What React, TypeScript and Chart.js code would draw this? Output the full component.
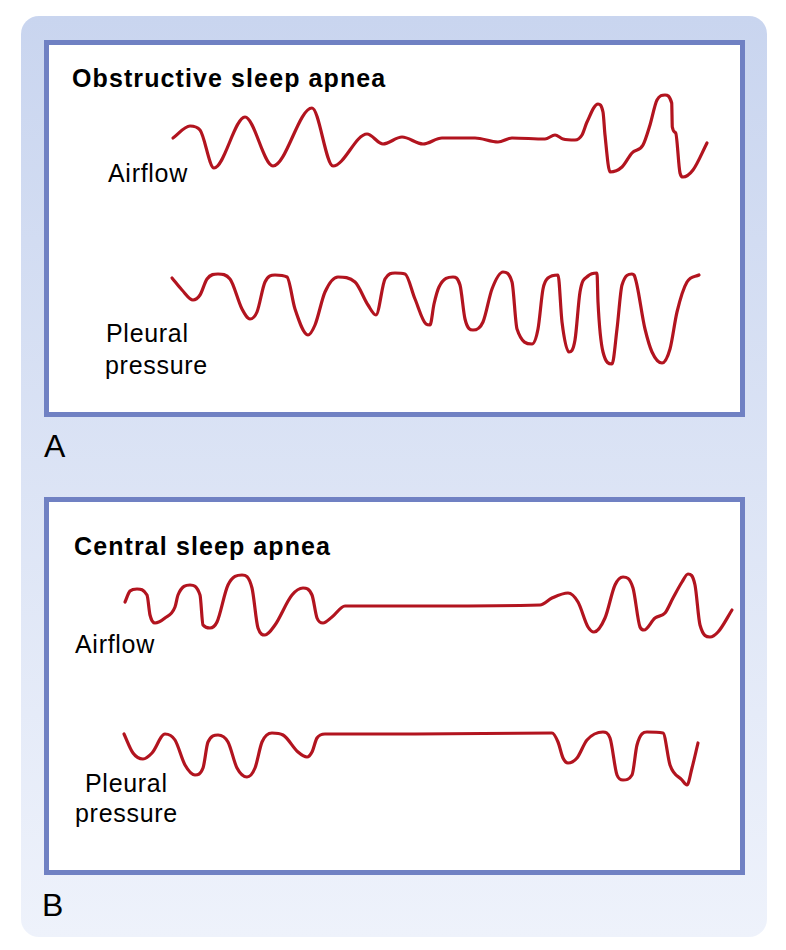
import React, { useEffect, useRef } from "react";
import { Chart, registerables } from "chart.js";

Chart.register(...registerables);

// ---------- Data (time in arbitrary units, amplitude in arbitrary units; up = positive) ----------
const obstructiveAirflowTime = [0, 17, 27, 41, 72, 100, 139, 160, 194, 210, 229, 250, 269, 302, 325, 339, 372, 382, 390, 402, 409, 414, 425, 430, 432, 437, 449, 459, 470, 477, 484, 492, 498.7, 499.3, 502.7, 507, 510, 520, 534];
const obstructiveAirflowValue = [2, 14, 10, -28, 23, -26, 32, -26, 6, -4, 3, -4, 2, 2, -2, 2, 1, 5, 1, 0, 5, 18, 36, 28, 5, -32, -27, -13, -5, 15, 40, 45, 37, 13, 7, -33, -37, -30, -3];

const obstructivePleuralTime = [0, 10, 21, 28, 35, 46, 58, 70, 78, 85, 93, 103, 115, 123, 136, 143, 153, 166, 183, 196, 204, 213, 223, 233, 243, 254, 258, 262, 267, 281, 288, 293, 301, 311, 320, 331, 340, 345, 360, 366, 371, 376, 386, 390, 397, 403, 408, 416, 425, 426, 431, 440, 445, 450, 460, 462, 473, 480, 490, 498, 505, 515, 527];
const obstructivePleuralValue = [40, 28, 18, 23, 39, 44, 39, 9, -1, 6, 36, 43, 41, 9, -17, -7, 26, 41, 36, 13, 3, 39, 45, 44, 19, -6, -7, 14, 31, 41, 33, -1, -12, -4, 29, 46, 36, -11, -26, -11, 29, 40, 43, -4, -34, -22, 26, 42, 45, 16, -34, -46, -11, 33, 44, 43, -11, -34, -45, -31, 6, 36, 43];

const centralAirflowTime = [0, 5, 12, 22, 25, 30, 40, 50, 53, 65, 75, 78, 85, 92, 103, 117, 127, 133, 140, 150, 167, 178, 187, 192, 198, 207, 220, 310, 415, 427, 443, 453, 463, 469, 480, 490, 498, 508, 515, 519, 530, 540, 548, 557, 563, 570, 575, 585, 593, 607];
const centralAirflowValue = [3, 14, 16, 10, -10, -18, -13, -2, 10, 20, 10, -20, -23, -17, 20, 30, 17, -23, -30, -20, 10, 17, 10, -13, -18, -12, -1, -1, 0, 7, 12, 3, -22, -27, -13, 20, 28, 17, -22, -25, -13, -8, 7, 23, 31, 20, -20, -32, -27, -5];

const centralPleuralTime = [0, 9, 19, 28, 41, 51, 61, 71, 79, 84, 94, 104, 113, 123, 131, 138, 148, 159, 174, 183, 188, 193, 201, 291, 428, 434, 439, 444, 453, 463, 479, 486, 493, 499, 508, 513, 523, 539, 546, 558, 563, 568, 574];
const centralPleuralValue = [24, 5, -1, 5, 24, 18, -7, -17, -10, 16, 23, 16, -10, -19, -10, 16, 25, 23, 6, 1, 6, 20, 24, 24, 25, 16, 0, -5, 0, 18, 26, 20, -17, -22, -17, 13, 26, 25, -7, -22, -27, -10, 15];

const panelTitles = ["Obstructive sleep apnea", "Central sleep apnea"];
const panelLetters = ["A", "B"];
const traceLabels = ["Airflow", "Pleural", "pressure"];

// ---------- Styles ----------
const TRACE_COLOR = "#b2141f";
const BORDER_COLOR = "#7081c3";
const FONT = "'Liberation Sans', Arial, Helvetica, sans-serif";
const PAD = 4;

type TraceProps = {
  time: number[];
  value: number[];
  left: number;
  top: number;
  xMax: number;
  amp: number;
};

function Trace({ time, value, left, top, xMax, amp }: TraceProps) {
  const ref = useRef<HTMLCanvasElement | null>(null);
  const width = xMax + PAD * 2;
  const height = amp * 2 + PAD * 2;
  useEffect(() => {
    if (!ref.current) return;
    const chart = new Chart(ref.current, {
      type: "line",
      data: {
        datasets: [
          {
            data: time.map((t, i) => ({ x: t, y: value[i] })),
            borderColor: TRACE_COLOR,
            borderWidth: 3.2,
            pointRadius: 0,
            fill: false,
            cubicInterpolationMode: "monotone",
            borderCapStyle: "round",
            borderJoinStyle: "round",
            clip: false,
          } as any,
        ],
      },
      options: {
        responsive: false,
        maintainAspectRatio: false,
        animation: false,
        devicePixelRatio: 1,
        layout: { padding: PAD },
        events: [],
        scales: {
          x: { type: "linear", display: false, min: 0, max: xMax },
          y: { type: "linear", display: false, min: -amp, max: amp },
        },
        plugins: { legend: { display: false }, tooltip: { enabled: false } },
      },
    });
    return () => chart.destroy();
  }, []);
  return (
    <canvas
      ref={ref}
      width={width}
      height={height}
      style={{ position: "absolute", left, top, width, height, display: "block" }}
    />
  );
}

function Text({ children, left, top, size, bold, spacing }: any) {
  return (
    <div
      style={{
        position: "absolute",
        left,
        top,
        fontFamily: FONT,
        fontSize: size,
        lineHeight: `${size}px`,
        fontWeight: bold ? 700 : 400,
        letterSpacing: spacing,
        color: "#000",
        whiteSpace: "nowrap",
      }}
    >
      {children}
    </div>
  );
}

export default function App() {
  const box = (top: number, height: number) => (
    <div
      style={{
        position: "absolute",
        left: 44,
        top,
        width: 701,
        height,
        boxSizing: "border-box",
        border: `5px solid ${BORDER_COLOR}`,
        background: "#fff",
      }}
    />
  );
  return (
    <div style={{ position: "absolute", left: 0, top: 0, width: 786, height: 950, overflow: "hidden", background: "#fff" }}>
      <div
        style={{
          position: "absolute",
          left: 21,
          top: 16,
          width: 746,
          height: 921,
          borderRadius: 18,
          background: "linear-gradient(to bottom, #c9d5ef, #eef2fb)",
        }}
      />
      {box(40, 377)}
      {box(497, 378)}

      <Text left={72} top={66} size={25} bold spacing="1.1px">{panelTitles[0]}</Text>
      <Text left={108} top={160.5} size={25} spacing="0.7px">{traceLabels[0]}</Text>
      <Text left={106} top={320.8} size={25} spacing="0.7px">{traceLabels[1]}</Text>
      <Text left={105} top={352.8} size={25} spacing="0.7px">{traceLabels[2]}</Text>
      <Text left={44} top={430} size={32}>{panelLetters[0]}</Text>

      <Text left={74} top={533.8} size={25} bold spacing="1.1px">{panelTitles[1]}</Text>
      <Text left={75} top={631.8} size={25} spacing="0.7px">{traceLabels[0]}</Text>
      <Text left={85} top={770.8} size={25} spacing="0.7px">{traceLabels[1]}</Text>
      <Text left={75} top={800.8} size={25} spacing="0.7px">{traceLabels[2]}</Text>
      <Text left={42} top={889} size={32}>{panelLetters[1]}</Text>

      <Trace time={obstructiveAirflowTime} value={obstructiveAirflowValue} left={173 - PAD} top={140 - 50 - PAD} xMax={540} amp={50} />
      <Trace time={obstructivePleuralTime} value={obstructivePleuralValue} left={172 - PAD} top={318 - 50 - PAD} xMax={530} amp={50} />
      <Trace time={centralAirflowTime} value={centralAirflowValue} left={125 - PAD} top={605 - 40 - PAD} xMax={610} amp={40} />
      <Trace time={centralPleuralTime} value={centralPleuralValue} left={124 - PAD} top={758 - 35 - PAD} xMax={580} amp={35} />
    </div>
  );
}
